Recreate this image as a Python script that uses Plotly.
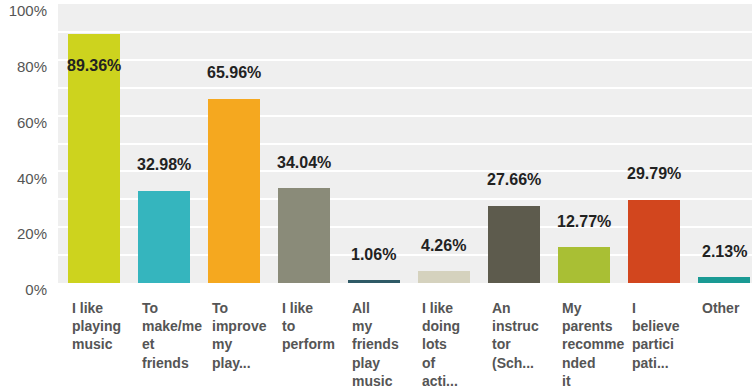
import plotly.graph_objects as go

# Survey answers: reasons for joining (percent of respondents)
categories = [
    "I like<br>playing<br>music",
    "To<br>make/me<br>et<br>friends",
    "To<br>improve<br>my<br>play...",
    "I like<br>to<br>perform",
    "All<br>my<br>friends<br>play<br>music",
    "I like<br>doing<br>lots<br>of<br>acti...",
    "An<br>instruc<br>tor<br>(Sch...",
    "My<br>parents<br>recomme<br>nded<br>it",
    "I<br>believe<br>partici<br>pati...",
    "Other",
]
values = [89.36, 32.98, 65.96, 34.04, 1.06, 4.26, 27.66, 12.77, 29.79, 2.13]
colors = ["#cdd31e", "#35b5be", "#f5a81f", "#8a8b79", "#2f5a66",
          "#d5d2be", "#5d5b4d", "#a9bf34", "#d2461e", "#1a9a94"]
y_ticks = [0, 20, 40, 60, 80, 100]
y_tick_text = ["0%", "20%", "40%", "60%", "80%", "100%"]

idx = list(range(len(values)))
bar_w = 0.74

fig = go.Figure(go.Bar(
    x=idx, y=values, width=bar_w,
    marker=dict(color=colors, line=dict(width=0)),
    hoverinfo="skip",
))

annotations = []
for i, v in enumerate(values):
    # value label above each bar; tall bars carry it just inside the top
    shift = 26 if v < 80 else -32
    annotations.append(dict(
        x=i, y=v, xref="x", yref="y", text=f"<b>{v:.2f}%</b>", showarrow=False,
        yshift=shift, font=dict(family="Arial, Liberation Sans", size=16, color="#222222"),
        xanchor="center", yanchor="middle",
    ))
    # wrapped category name, left aligned under the bar
    annotations.append(dict(
        x=i - bar_w / 2, y=0, xref="x", yref="y", text=f"<b>{categories[i]}</b>",
        showarrow=False, xanchor="left", yanchor="top", align="left", yshift=-15,
        xshift=2,
        font=dict(family="Arial, Liberation Sans", size=14, color="#555555"),
    ))

fig.update_layout(
    width=752, height=391,
    margin=dict(l=58, r=0, t=4, b=108),
    paper_bgcolor="white", plot_bgcolor="#efefef",
    showlegend=False, annotations=annotations,
    bargap=0,
)
fig.update_xaxes(range=[-0.514, 9.4], showticklabels=False, showgrid=False,
                 zeroline=False, showline=False, ticks="")
fig.update_yaxes(range=[0, 100], tickvals=y_ticks, ticktext=y_tick_text,
                 showgrid=True, gridcolor="white", gridwidth=2,
                 minor=dict(dtick=10, showgrid=True, gridcolor="white", gridwidth=2),
                 zeroline=False, showline=False, ticks="", ticklabelshift=7,
                 ticklabelstandoff=10,
                 tickfont=dict(family="Arial, Liberation Sans", size=15, color="#555555"))

fig.write_html("out.html")
